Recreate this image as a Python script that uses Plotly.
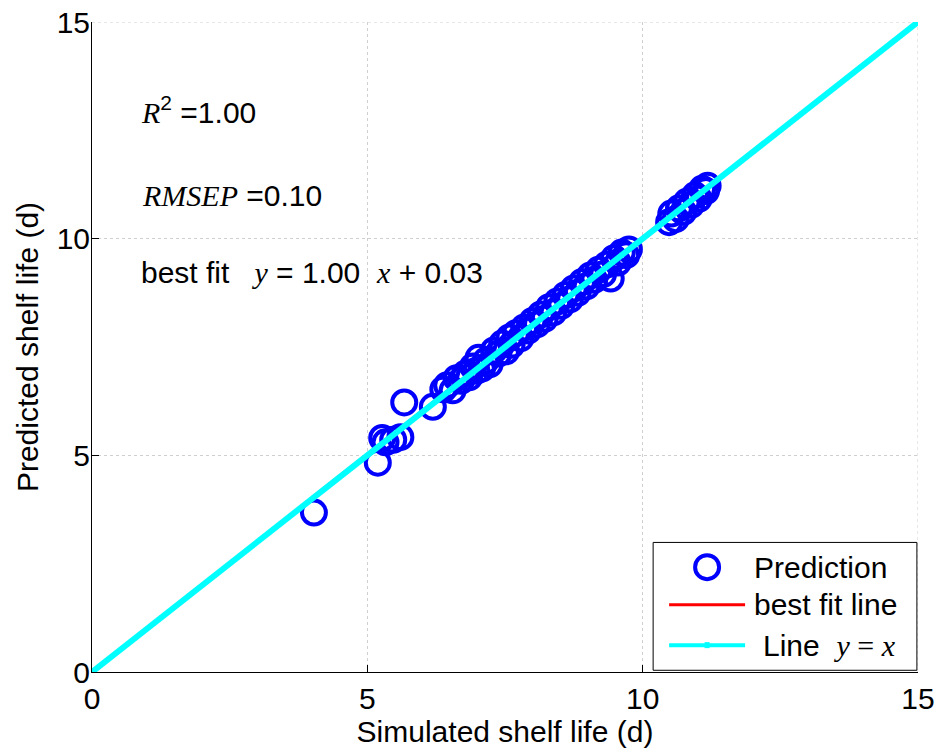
import plotly.graph_objects as go

# Shelf life (days): simulated vs. predicted
simulated = [
    4.03, 5.19, 5.27, 5.33, 5.47, 5.60, 5.67, 6.19,
    6.38, 6.45, 6.55, 6.62, 6.70, 6.78, 6.85, 6.92, 6.98, 7.02, 7.08, 7.15,
    7.22, 7.30, 7.38, 7.45, 7.52, 7.58, 7.62, 7.70, 7.78, 7.85, 7.92, 8.00,
    8.08, 8.15, 8.22, 8.30, 8.38, 8.45, 8.52, 8.60, 8.68, 8.75, 8.82, 8.90,
    8.98, 9.05, 9.12, 9.20, 9.28, 9.35, 9.42, 9.48, 9.55, 9.62, 9.70, 9.75,
    10.48, 10.52, 10.60, 10.66, 10.74, 10.80, 10.88, 10.95, 11.02, 11.08, 11.15, 11.18,
]
predicted = [
    3.68, 4.83, 5.40, 5.30, 5.36, 5.42, 6.22, 6.12,
    6.52, 6.62, 6.50, 6.78, 6.72, 6.88, 6.80, 7.05, 6.95, 7.25, 7.00, 7.18,
    7.10, 7.42, 7.35, 7.58, 7.40, 7.72, 7.55, 7.82, 7.70, 7.95, 7.88, 8.10,
    8.02, 8.25, 8.15, 8.42, 8.30, 8.55, 8.45, 8.70, 8.60, 8.85, 8.75, 9.00,
    8.90, 9.15, 9.05, 9.28, 9.18, 9.40, 9.08, 9.55, 9.45, 9.68, 9.62, 9.75,
    10.38, 10.58, 10.45, 10.70, 10.62, 10.85, 10.78, 11.00, 10.92, 11.15, 11.10, 11.22,
]

fit_slope = 1.00
fit_intercept = 0.03
r_squared = 1.00
rmsep = 0.10

axis_ticks = [0, 5, 10, 15]
axis_min, axis_max = axis_ticks[0], axis_ticks[-1]

SANS = "Arial, 'Liberation Sans', sans-serif"
SERIF = "'Times New Roman', 'Liberation Serif', serif"
FS = 30


def it(s):
    return f"<span style=\"font-family:{SERIF}\"><i>{s}</i></span>"


fit_x = [min(simulated), max(simulated)]
fit_y = [fit_slope * v + fit_intercept for v in fit_x]
ident = [axis_min, axis_max]

fig = go.Figure()
fig.add_trace(go.Scatter(
    x=simulated, y=predicted, mode="markers", name="Prediction",
    marker=dict(symbol="circle-open", size=24, color="#0000ff",
                line=dict(width=4, color="#0000ff")),
))
fig.add_trace(go.Scatter(
    x=fit_x, y=fit_y, mode="lines", name="best fit line",
    line=dict(color="#ff0000", width=3),
))
fig.add_trace(go.Scatter(
    x=ident, y=ident, mode="lines", name="Line y = x",
    line=dict(color="#00ffff", width=6),
))

grid = dict(color="#cfcfcf", width=1, dash="dot")
shapes = [
    dict(type="line", xref="x", yref="y", x0=axis_min, x1=axis_max,
         y0=axis_max, y1=axis_max, line=grid, layer="below"),
    dict(type="line", xref="x", yref="y", x0=axis_max, x1=axis_max,
         y0=axis_min, y1=axis_max, line=grid, layer="below"),
]

# legend box drawn in data space
lg_x0, lg_x1, lg_y0, lg_y1 = 10.19, 14.98, 0.04, 2.99
shapes.append(dict(type="rect", xref="x", yref="y", x0=lg_x0, x1=lg_x1,
                   y0=lg_y0, y1=lg_y1, line=dict(color="#000000", width=1),
                   fillcolor="#ffffff", layer="above"))
sym_x = 11.17
row_y = [2.42, 1.55, 0.62]
shapes.append(dict(type="circle", xref="x", yref="y", xsizemode="pixel",
                   ysizemode="pixel", xanchor=sym_x, yanchor=row_y[0],
                   x0=-12, x1=12, y0=-12, y1=12,
                   line=dict(color="#0000ff", width=4), layer="above"))
shapes.append(dict(type="line", xref="x", yref="y", x0=10.48, x1=11.86,
                   y0=row_y[1], y1=row_y[1],
                   line=dict(color="#ff0000", width=3), layer="above"))
shapes.append(dict(type="line", xref="x", yref="y", x0=10.48, x1=11.86,
                   y0=row_y[2], y1=row_y[2],
                   line=dict(color="#00ffff", width=4), layer="above"))
shapes.append(dict(type="rect", xref="x", yref="y", xsizemode="pixel",
                   ysizemode="pixel", xanchor=sym_x, yanchor=row_y[2],
                   x0=-2.5, x1=2.5, y0=-3, y1=3,
                   line=dict(width=0), fillcolor="#00ffff", layer="above"))

annotations = [
    dict(x=0.86, y=12.98, text=f"{it('R')}<sup>2</sup> ={r_squared:.2f}"),
    dict(x=0.88, y=11.0, text=f"{it('RMSEP')} ={rmsep:.2f}"),
    dict(x=0.85, y=9.23,
         text=f"best fit &nbsp; {it('y')} = {fit_slope:.2f} &nbsp;{it('x')} + {fit_intercept:.2f}"),
    dict(x=11.98, y=row_y[0], text="Prediction"),
    dict(x=11.98, y=row_y[1], text="best fit line"),
    dict(x=12.14, y=row_y[2],
         text=f"Line &nbsp;<span style=\"font-family:{SERIF}\"><i>y</i> = <i>x</i></span>"),
]
for a in annotations:
    a.update(xref="x", yref="y", xanchor="left", yanchor="middle",
             showarrow=False, font=dict(family=SANS, size=FS, color="#000000"))

axis_common = dict(
    range=[axis_min, axis_max], tickvals=axis_ticks,
    ticks="inside", ticklen=7, tickcolor="#000000",
    showline=True, linecolor="#000000", linewidth=1,
    showgrid=True, gridcolor="#cfcfcf", griddash="dot", gridwidth=1,
    zeroline=False, automargin=False,
    tickfont=dict(family=SANS, size=FS, color="#000000"),
)

fig.update_layout(
    width=936, height=749,
    margin=dict(l=92, r=18, t=22, b=77, autoexpand=False),
    paper_bgcolor="#ffffff", plot_bgcolor="#ffffff",
    showlegend=False,
    xaxis=dict(axis_common, title=dict(text="Simulated shelf life (d)",
                                        font=dict(family=SANS, size=FS, color="#000000"),
                                        standoff=2)),
    yaxis=dict(axis_common, ticklabelstandoff=-5,
               title=dict(text="Predicted shelf life (d)",
                          font=dict(family=SANS, size=FS, color="#000000"),
                          standoff=9)),
    shapes=shapes,
    annotations=annotations,
)

fig.write_html("out.html")
